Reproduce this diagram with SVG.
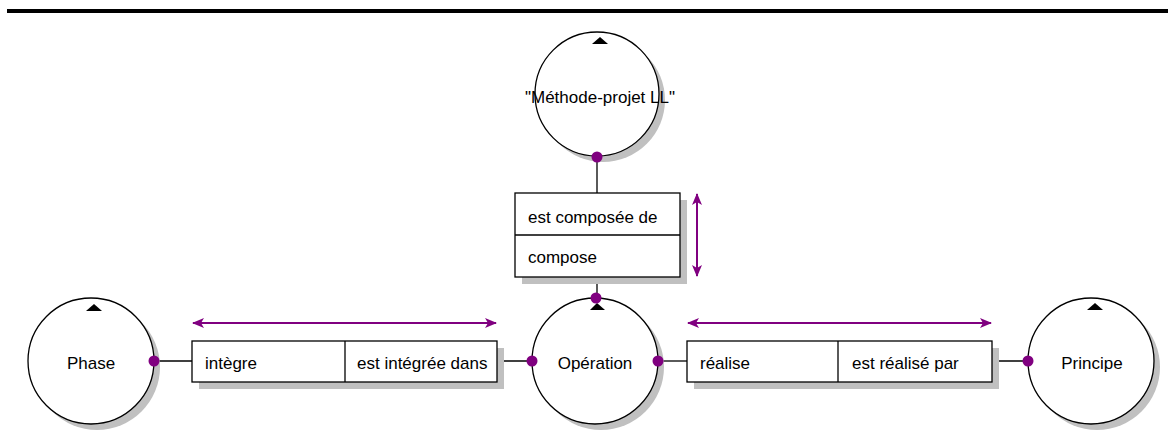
<svg xmlns="http://www.w3.org/2000/svg" width="1168" height="447" viewBox="0 0 1168 447">
<style>
.ent{fill:#fff;stroke:#000;stroke-width:1.3}
.sh{fill:#c0c0c0}
.box{fill:#fff;stroke:#000;stroke-width:1.3}
.ln{stroke:#000;stroke-width:1.3;fill:none}
.pa{stroke:#800080;stroke-width:2;fill:none;marker-start:url(#ah);marker-end:url(#ah)}
.dot{fill:#800080}
.tri{fill:#000}
text{font-family:"Liberation Sans",Arial,sans-serif;font-size:17px;fill:#000}
.c{text-anchor:middle}
</style>
<defs>
<marker id="ah" viewBox="0 0 12 10" refX="11" refY="5" markerWidth="12" markerHeight="10" markerUnits="userSpaceOnUse" orient="auto-start-reverse">
<path d="M0,0 L12,5 L0,10 L3,5 Z" fill="#800080"/>
</marker>
</defs>
<rect x="7" y="9" width="1161" height="4" fill="#000"/>
<g id="connectors">
<line class="ln" x1="597" y1="157" x2="597" y2="193"/>
<line class="ln" x1="597" y1="277" x2="597" y2="298"/>
<line class="ln" x1="155" y1="361" x2="192" y2="361"/>
<line class="ln" x1="497" y1="361" x2="532" y2="361"/>
<line class="ln" x1="658" y1="361" x2="687" y2="361"/>
<line class="ln" x1="992" y1="361" x2="1028" y2="361"/>
<line class="pa" x1="697" y1="194" x2="697" y2="276"/>
<line class="pa" x1="193" y1="323" x2="496" y2="323"/>
<line class="pa" x1="688" y1="323" x2="991" y2="323"/>
</g>
<g id="rel-composee">
<rect class="sh" x="522" y="200" width="165" height="84"/>
<rect class="box" x="515" y="193" width="165" height="84"/>
<line class="ln" x1="515" y1="235" x2="680" y2="235"/>
<text x="528" y="223">est composée de</text>
<text x="528" y="263">compose</text>
</g>
<g id="rel-integre">
<rect class="sh" x="199" y="348" width="305" height="41"/>
<rect class="box" x="192" y="341" width="305" height="41"/>
<line class="ln" x1="345" y1="341" x2="345" y2="382"/>
<text x="205" y="369">intègre</text>
<text x="357" y="369">est intégrée dans</text>
</g>
<g id="rel-realise">
<rect class="sh" x="694" y="348" width="305" height="41"/>
<rect class="box" x="687" y="341" width="305" height="41"/>
<line class="ln" x1="838" y1="341" x2="838" y2="382"/>
<text x="700" y="369">réalise</text>
<text x="852" y="369">est réalisé par</text>
</g>
<g id="methode">
<circle class="sh" cx="603" cy="100" r="62"/>
<circle class="ent" cx="597" cy="94" r="62"/>
<path class="tri" d="M592,44 L600,37 L608,44 Z"/>
<text class="c" x="600" y="103">"Méthode-projet LL"</text>
<circle class="dot" cx="597" cy="157" r="5.5"/>
</g>
<g id="phase">
<circle class="sh" cx="97" cy="367" r="63"/>
<circle class="ent" cx="91" cy="361" r="63"/>
<path class="tri" d="M86,311 L94,304 L102,311 Z"/>
<text class="c" x="91" y="369">Phase</text>
<circle class="dot" cx="154" cy="361" r="5.5"/>
</g>
<g id="operation">
<circle class="sh" cx="601" cy="367" r="63"/>
<circle class="ent" cx="595" cy="361" r="63"/>
<path class="tri" d="M590,310 L597,303 L605,310 Z"/>
<text class="c" x="595" y="369">Opération</text>
<circle class="dot" cx="596" cy="298" r="5.5"/>
<circle class="dot" cx="532" cy="361" r="5.5"/>
<circle class="dot" cx="658" cy="361" r="5.5"/>
</g>
<g id="principe">
<circle class="sh" cx="1097" cy="367" r="63"/>
<circle class="ent" cx="1091" cy="361" r="63"/>
<path class="tri" d="M1087,310 L1095,303 L1103,310 Z"/>
<text class="c" x="1092" y="369">Principe</text>
<circle class="dot" cx="1028" cy="361" r="5.5"/>
</g>
</svg>
